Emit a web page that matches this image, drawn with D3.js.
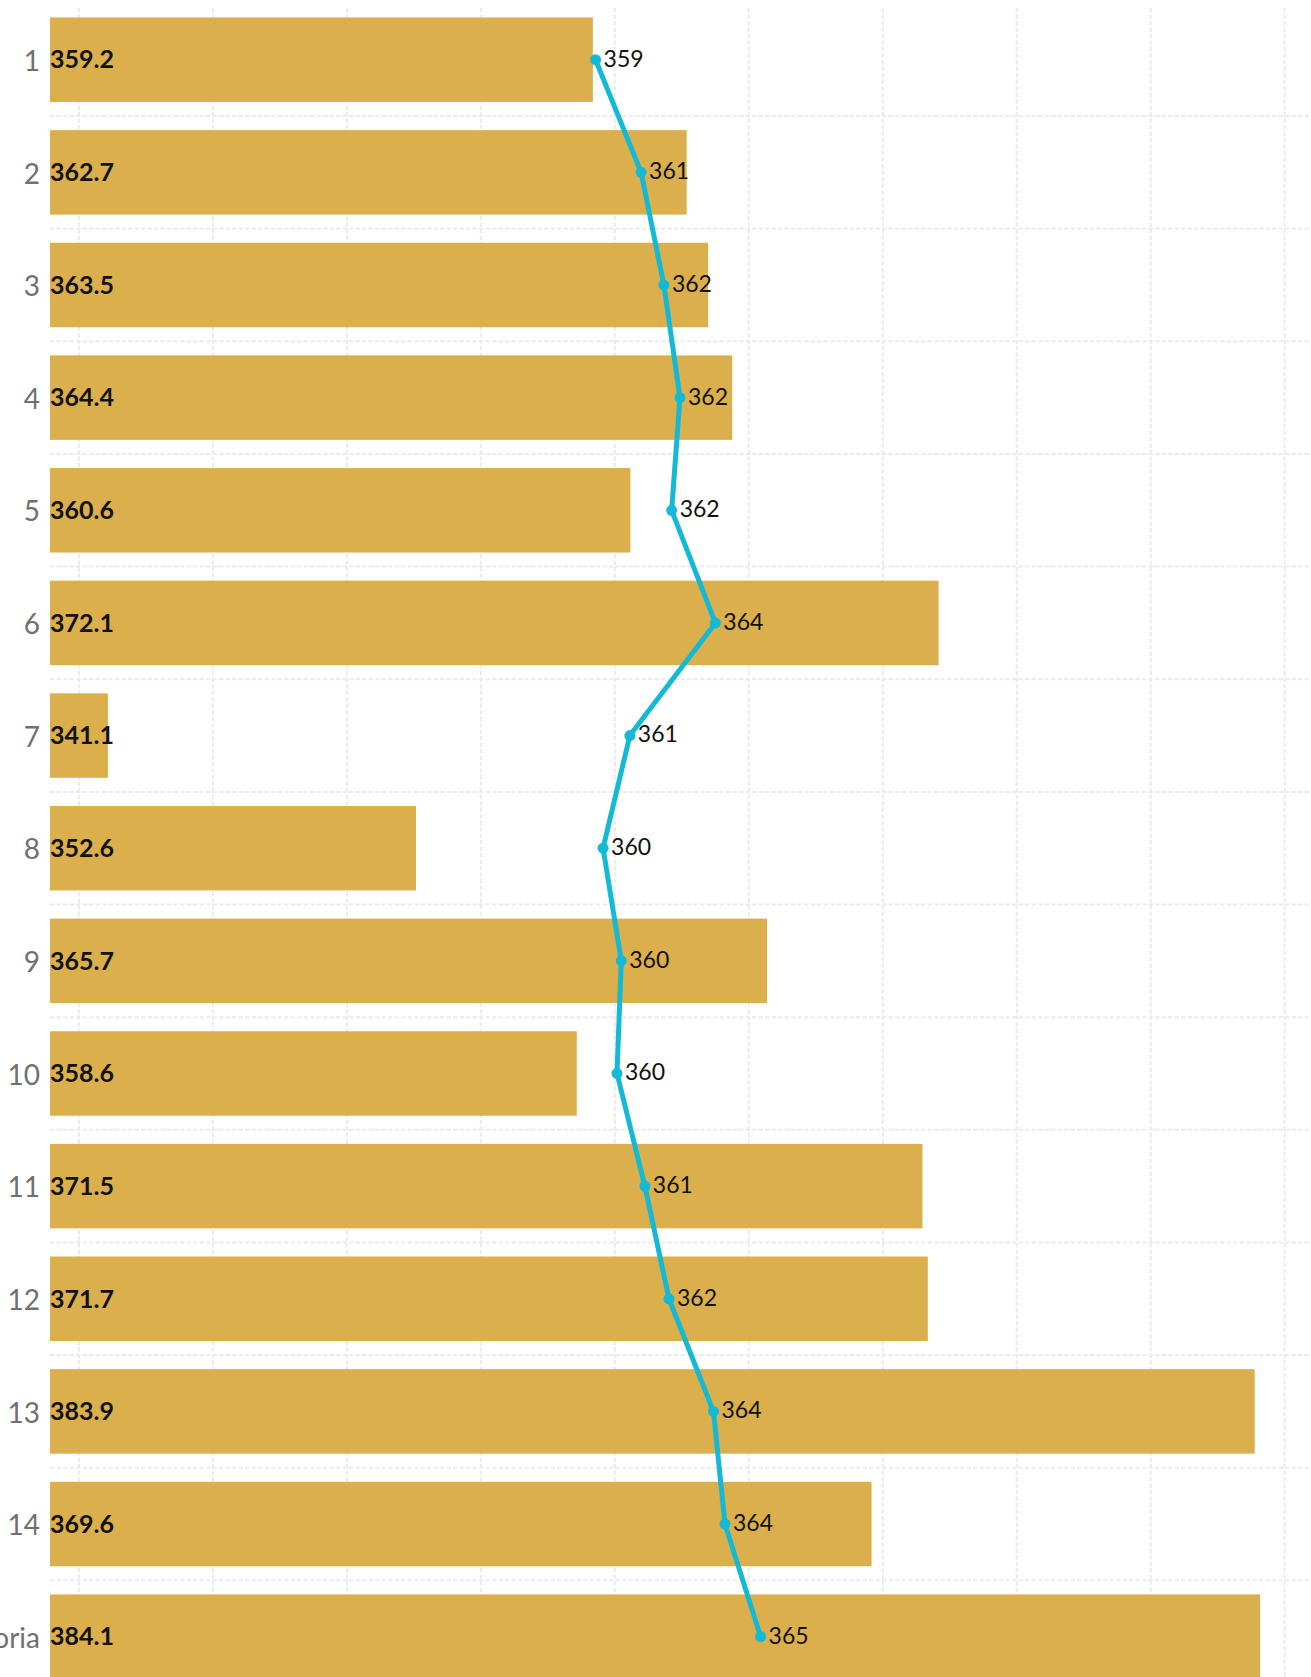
<!DOCTYPE html>
<html>
<head>
<meta charset="utf-8">
<script src="https://cdn.jsdelivr.net/npm/d3@7"></script>
<style>
  body { margin: 0; background: #fff; }
  svg { display: block; font-family: Lato, "Open Sans", sans-serif; }
</style>
</head>
<body>
<svg id="chart"></svg>
<script>
// categories (rows) and the two series
const categories = ["1","2","3","4","5","6","7","8","9","10","11","12","13","14","Victoria"];
const barValues = [359.2, 362.7, 363.5, 364.4, 360.6, 372.1, 341.1, 352.6, 365.7, 358.6, 371.5, 371.7, 383.9, 369.6, 384.1];
const lineValues = [359.3, 361.0, 361.85, 362.45, 362.14, 363.77, 360.58, 359.58, 360.26, 360.1, 361.14, 362.04, 363.7, 364.13, 365.46];
const gridTicks = [340, 345, 350, 355, 360, 365, 370, 375, 380, 385];

const svgWidth = 1311,
    svgHeight = 1677,
    left = 50,
    gridTop = 8,
    bandStart = 3.4,
    step = 112.64;

const barColor = "#dbaf4b";
const lineColor = "#14b9d6";
const gridColor = "#ebebeb";

var fmtBar = d3.format(".1f");
var fmtLine = d3.format(".0f");

const chart = d3.select('#chart')
    .attr("width", svgWidth)
    .attr("height", svgHeight);

// x scale shared by bars and line
var xScale = d3.scaleLinear().domain([338.94, 386]).range([left, svgWidth]);
var yScale = d3.scaleBand()
    .domain(categories)
    .range([bandStart, bandStart + step * categories.length])
    .paddingInner(0.25)
    .paddingOuter(0.125);

const rows = categories.map(function(c, i) {
    return {cat: c, bar: barValues[i], line: lineValues[i]};
});
var midY = d => yScale(d.cat) + yScale.bandwidth() / 2;

// vertical grid
var xGrid = d3.axisBottom(xScale)
    .tickValues(gridTicks)
    .tickSize(svgHeight - gridTop)
    .tickFormat("");
chart.append("g")
    .attr("class", "xgrid")
    .attr("transform", "translate(0," + gridTop + ")")
    .call(xGrid)
    .call(g => g.select(".domain").remove())
    .selectAll("line")
    .attr("stroke", gridColor)
    .attr("stroke-width", 2)
    .attr("stroke-dasharray", "4.5,2");

// horizontal grid at band boundaries
chart.append("g")
    .selectAll("line")
    .data(categories.slice(1))
    .join("line")
    .attr("x1", left)
    .attr("x2", svgWidth)
    .attr("y1", d => yScale(d) - yScale.step() * yScale.paddingInner() / 2)
    .attr("y2", d => yScale(d) - yScale.step() * yScale.paddingInner() / 2)
    .attr("stroke", gridColor)
    .attr("stroke-width", 2)
    .attr("stroke-dasharray", "4.5,2");

// bars
chart.append("g")
    .selectAll("rect")
    .data(rows)
    .join("rect")
    .attr("x", xScale(xScale.domain()[0]))
    .attr("y", d => yScale(d.cat))
    .attr("width", d => xScale(d.bar) - xScale(xScale.domain()[0]))
    .attr("height", yScale.bandwidth())
    .attr("fill", barColor);

// bar value labels
chart.append("g")
    .selectAll("text")
    .data(rows)
    .join("text")
    .attr("x", left)
    .attr("y", midY)
    .attr("dy", "0.35em")
    .attr("font-size", 25)
    .attr("font-weight", "bold")
    .attr("fill", "#111")
    .text(d => fmtBar(d.bar));

// category labels
chart.append("g")
    .selectAll("text")
    .data(rows)
    .join("text")
    .attr("x", 40)
    .attr("y", midY)
    .attr("dy", "0.4em")
    .attr("text-anchor", "end")
    .attr("font-size", 28)
    .attr("fill", "#707070")
    .text(d => d.cat);

// line
var valueline = d3.line()
    .x(d => xScale(d.line))
    .y(midY)
    .curve(d3.curveLinear);

chart.append("path")
    .datum(rows)
    .attr("d", valueline)
    .attr("fill", "none")
    .attr("stroke", lineColor)
    .attr("stroke-width", 5)
    .attr("stroke-linejoin", "round");

chart.append("g")
    .selectAll("circle")
    .data(rows)
    .join("circle")
    .attr("cx", d => xScale(d.line))
    .attr("cy", midY)
    .attr("r", 5.5)
    .attr("fill", lineColor);

chart.append("g")
    .selectAll("text")
    .data(rows)
    .join("text")
    .attr("x", d => xScale(d.line) + 8)
    .attr("y", midY)
    .attr("dy", "0.3em")
    .attr("font-size", 23)
    .attr("fill", "#111")
    .text(d => fmtLine(d.line));
</script>
</body>
</html>
